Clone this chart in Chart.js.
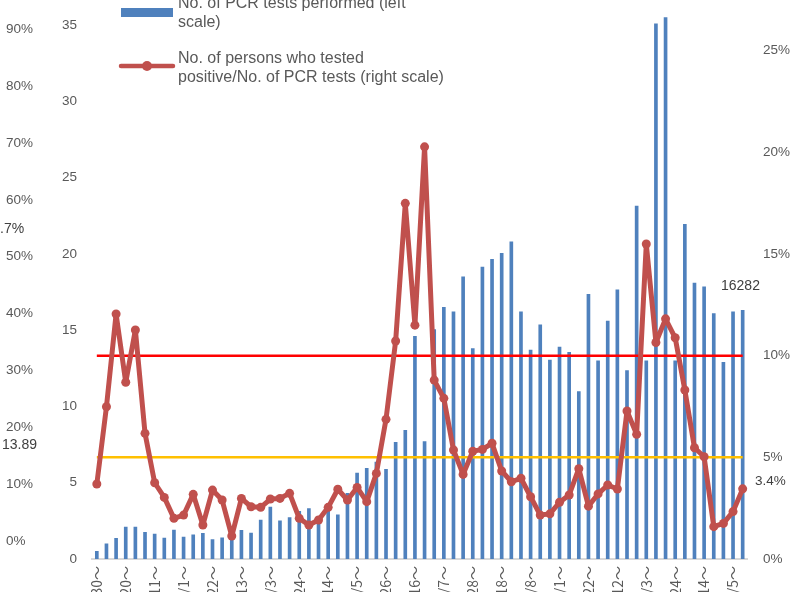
<!DOCTYPE html>
<html>
<head>
<meta charset="utf-8">
<script src="https://cdn.jsdelivr.net/npm/chart.js@4.4.1/dist/chart.umd.min.js"></script>
<style>
  html, body { margin: 0; padding: 0; overflow: hidden; background: #fff; }
  #wrap { position: absolute; left: 0; top: -51px; width: 791px; height: 700px; }
</style>
</head>
<body>
<div id="wrap"><canvas id="chart" width="791" height="700"></canvas></div>
<script>
// weekly periods (start dates)
const weeks = [
  '3/30～','4/6～','4/13～','4/20～','4/27～','5/4～','5/11～','5/18～','5/25～',
  '6/1～','6/8～','6/15～','6/22～','6/29～','7/6～','7/13～','7/20～','7/27～',
  '8/3～','8/10～','8/17～','8/24～','8/31～','9/7～','9/14～','9/21～','9/28～',
  '10/5～','10/12～','10/19～','10/26～','11/2～','11/9～','11/16～','11/23～','11/30～',
  '12/7～','12/14～','12/21～','12/28～','1/4～','1/11～','1/18～','1/25～',
  '2/1～','2/8～','2/15～','2/22～','3/1～','3/8～','3/15～','3/22～','3/29～',
  '4/5～','4/12～','4/19～','4/26～','5/3～','5/10～','5/17～','5/24～','5/31～',
  '6/7～','6/14～','6/21～','6/28～','7/5～','7/12～'
];

// No. of PCR tests performed (left scale)
const pcrTests = [
  0.5, 1.0, 1.35, 2.1, 2.1, 1.75, 1.63, 1.37, 1.9, 1.44,
  1.59, 1.68, 1.27, 1.39, 1.5, 1.88, 1.7, 2.55, 3.4, 2.5,
  2.72, 3.12, 3.3, 2.8, 3.2, 2.9, 4.3, 5.64, 5.95, 6.36,
  5.88, 7.65, 8.43, 14.6, 7.7, 15.05, 16.5, 16.2, 18.5, 13.8,
  19.15, 19.65, 20.05, 20.8, 16.2, 13.7, 15.36, 13.05, 13.9, 13.55,
  10.98, 17.35, 13.0, 15.6, 17.65, 12.35, 23.15, 13.0, 35.1, 35.5,
  13.0, 21.95, 18.1, 17.85, 16.1, 12.9, 16.2, 16.3
];

// positives / PCR tests, % (right scale)
const positiveRate = [
  3.69, 7.49, 12.05, 8.69, 11.26, 6.18, 3.75, 3.03, 2.0, 2.16,
  3.18, 1.67, 3.39, 2.9, 1.13, 2.98, 2.57, 2.54, 2.95, 2.98,
  3.23, 2.0, 1.67, 1.92, 2.54, 3.43, 2.9, 3.52, 2.82, 4.21,
  6.87, 10.72, 17.49, 11.5, 20.27, 8.8, 7.9, 5.36, 4.16, 5.3,
  5.39, 5.69, 4.33, 3.8, 3.97, 3.06, 2.16, 2.22, 2.79, 3.15,
  4.44, 2.6, 3.2, 3.64, 3.44, 7.28, 6.13, 15.49, 10.65, 11.81,
  10.88, 8.31, 5.47, 5.03, 1.59, 1.75, 2.33, 3.45
];

// reference lines (right scale, %)
const upperRef = 10;
const lowerRef = 5;

// tick labels
const leftTicks = [0, 5, 10, 15, 20, 25, 30, 35, 40];
const rightTicks = [0, 5, 10, 15, 20, 25, 30];
const farTicks = [0, 10, 20, 30, 40, 50, 60, 70, 80, 90, 100];

// loose text labels
const noteTexts = ['.7%', '13.89', '16282', '3.4%'];
const legendTexts = [
  ['No. of PCR tests performed (left', 'scale)'],
  ['No. of persons who tested', 'positive/No. of PCR tests (right scale)']
];

const SHIFT = 51; // canvas is moved up by this much
const grey = '#595959';
const barBlue = '#4F81BD';
const lineRed = '#C0504D';
const FONT = '"Liberation Sans", Arial, "Noto Sans CJK JP", sans-serif';
const TICK_FONT = '"Noto Sans CJK JP", sans-serif';

Chart.defaults.font.family = FONT;
Chart.defaults.color = grey;

const noPad = (scale) => {
  scale.paddingTop = 0; scale.paddingBottom = 0;
  scale.paddingLeft = 0; scale.paddingRight = 0;
};

const extras = {
  id: 'extras',
  afterDraw(chart) {
    const c = chart.ctx;
    c.save();
    // loose labels
    c.fillStyle = '#404040';
    c.textBaseline = 'middle';
    c.textAlign = 'left';
    c.font = '14px ' + FONT;
    c.fillText(noteTexts[0], 0, 229 + SHIFT);
    c.fillText(noteTexts[1], 2, 445 + SHIFT);
    c.fillText(noteTexts[2], 721, 286 + SHIFT);
    c.font = '13.5px ' + FONT;
    c.fillText(noteTexts[3], 755, 481 + SHIFT);

    // legend
    c.fillStyle = barBlue;
    c.fillRect(121, 8 + SHIFT, 52, 9);
    c.strokeStyle = lineRed;
    c.lineWidth = 4.5;
    c.lineCap = 'round';
    c.beginPath();
    c.moveTo(121, 66 + SHIFT);
    c.lineTo(173, 66 + SHIFT);
    c.stroke();
    c.fillStyle = lineRed;
    c.beginPath();
    c.arc(147, 66 + SHIFT, 5, 0, Math.PI * 2);
    c.fill();

    c.fillStyle = grey;
    c.textBaseline = 'alphabetic';
    c.font = '16px ' + FONT;
    c.fillText(legendTexts[0][0], 178, 7.5 + SHIFT);
    c.fillText(legendTexts[0][1], 178, 26.5 + SHIFT);
    c.fillText(legendTexts[1][0], 178, 62.5 + SHIFT);
    c.fillText(legendTexts[1][1], 178, 81.5 + SHIFT);
    c.restore();
  }
};

const ctx = document.querySelector('#chart').getContext('2d');
const chart = new Chart(ctx, {
  data: {
    labels: weeks,
    datasets: [{
      type: 'line',
      label: 'No. of persons who tested positive/No. of PCR tests (right scale)',
      data: positiveRate,
      yAxisID: 'yRight',
      borderColor: lineRed,
      backgroundColor: lineRed,
      borderWidth: 5,
      borderJoinStyle: 'round',
      borderCapStyle: 'round',
      pointRadius: 4.5,
      pointBorderWidth: 0,
      pointBackgroundColor: lineRed,
      tension: 0,
      order: 0
    }, {
      type: 'line',
      label: 'upper',
      data: weeks.map(() => upperRef),
      yAxisID: 'yRight',
      borderColor: '#FF0000',
      borderWidth: 2.5,
      pointRadius: 0,
      order: 1
    }, {
      type: 'line',
      label: 'lower',
      data: weeks.map(() => lowerRef),
      yAxisID: 'yRight',
      borderColor: '#FFC000',
      borderWidth: 2.5,
      pointRadius: 0,
      order: 1
    }, {
      type: 'bar',
      label: 'No. of PCR tests performed (left scale)',
      data: pcrTests,
      yAxisID: 'yLeft',
      backgroundColor: barBlue,
      barThickness: 3,
      order: 2
    }]
  },
  options: {
    responsive: false,
    animation: false,
    layout: { autoPadding: false, padding: { left: 6, right: 0, top: 0, bottom: 0 } },
    plugins: { legend: { display: false }, tooltip: { enabled: false } },
    scales: {
      x: {
        grid: { display: false, drawTicks: false },
        border: { display: true, color: '#D9D9D9', width: 2 },
        ticks: {
          autoSkip: false,
          minRotation: 90,
          maxRotation: 90,
          padding: 7,
          font: { size: 14, family: TICK_FONT },
          callback: (v, i) => (i % 3 === 0 ? weeks[i] : '')
        },
        afterFit: (s) => { s.height = 90; noPad(s); }
      },
      yFar: {
        position: 'left',
        weight: 2,
        min: -3.16,
        max: 104.12,
        grid: { display: false, drawTicks: false },
        border: { display: false },
        ticks: { crossAlign: 'far', padding: 0, font: { size: 13.5 }, callback: (v) => v + '%' },
        afterBuildTicks: (s) => { s.ticks = farTicks.map((v) => ({ value: v })); },
        afterFit: (s) => { s.width = 40; noPad(s); }
      },
      yLeft: {
        position: 'left',
        weight: 1,
        min: 0,
        max: 40,
        grid: { display: false, drawTicks: false },
        border: { display: false },
        ticks: { padding: 15, font: { size: 13.5 } },
        afterBuildTicks: (s) => { s.ticks = leftTicks.map((v) => ({ value: v })); },
        afterFit: (s) => { s.width = 46; noPad(s); }
      },
      yRight: {
        position: 'right',
        min: 0,
        max: 30,
        grid: { display: false, drawTicks: false },
        border: { display: false },
        ticks: { padding: 15.5, font: { size: 13.5 }, callback: (v) => v + '%' },
        afterBuildTicks: (s) => { s.ticks = rightTicks.map((v) => ({ value: v })); },
        afterFit: (s) => { s.width = 43.5; noPad(s); }
      }
    }
  },
  plugins: [extras]
});
</script>
</body>
</html>
